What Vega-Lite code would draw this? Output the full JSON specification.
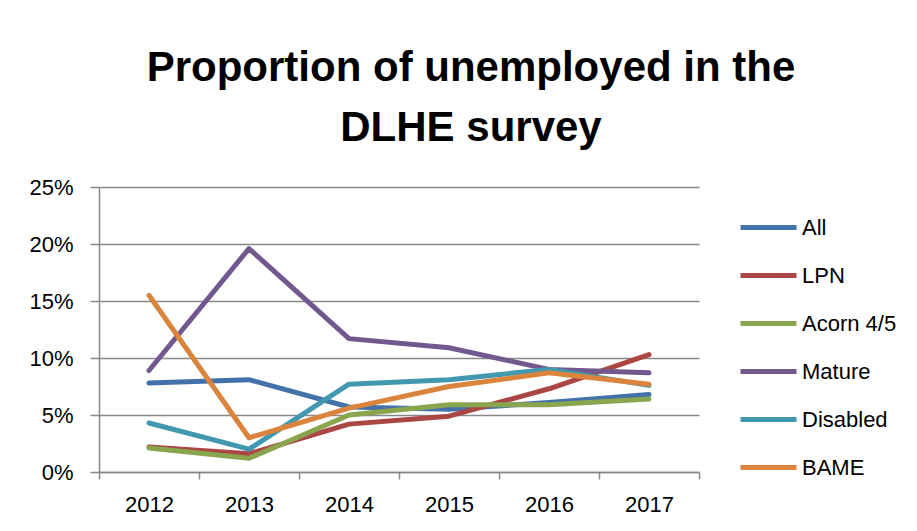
{
  "$schema": "https://vega.github.io/schema/vega-lite/v6.json",
  "autosize": "none",
  "width": 600,
  "height": 285,
  "padding": {"left": 99, "top": 187, "right": 218, "bottom": 59},
  "background": "white",
  "title": {
    "text": ["Proportion of unemployed in the", "DLHE survey"],
    "anchor": "middle",
    "font": "Liberation Sans",
    "fontSize": 42,
    "fontWeight": "bold",
    "color": "#000000",
    "lineHeight": 60,
    "dx": 72,
    "offset": 26
  },
  "data": {
    "values": [
      {"year": "2012", "group": "All", "value": 0.078},
      {"year": "2013", "group": "All", "value": 0.081},
      {"year": "2014", "group": "All", "value": 0.057},
      {"year": "2015", "group": "All", "value": 0.055},
      {"year": "2016", "group": "All", "value": 0.061},
      {"year": "2017", "group": "All", "value": 0.068},
      {"year": "2012", "group": "LPN", "value": 0.022},
      {"year": "2013", "group": "LPN", "value": 0.016},
      {"year": "2014", "group": "LPN", "value": 0.042},
      {"year": "2015", "group": "LPN", "value": 0.049},
      {"year": "2016", "group": "LPN", "value": 0.073},
      {"year": "2017", "group": "LPN", "value": 0.103},
      {"year": "2012", "group": "Acorn 4/5", "value": 0.021},
      {"year": "2013", "group": "Acorn 4/5", "value": 0.012},
      {"year": "2014", "group": "Acorn 4/5", "value": 0.050},
      {"year": "2015", "group": "Acorn 4/5", "value": 0.059},
      {"year": "2016", "group": "Acorn 4/5", "value": 0.059},
      {"year": "2017", "group": "Acorn 4/5", "value": 0.064},
      {"year": "2012", "group": "Mature", "value": 0.089},
      {"year": "2013", "group": "Mature", "value": 0.196},
      {"year": "2014", "group": "Mature", "value": 0.117},
      {"year": "2015", "group": "Mature", "value": 0.109},
      {"year": "2016", "group": "Mature", "value": 0.090},
      {"year": "2017", "group": "Mature", "value": 0.087},
      {"year": "2012", "group": "Disabled", "value": 0.043},
      {"year": "2013", "group": "Disabled", "value": 0.020},
      {"year": "2014", "group": "Disabled", "value": 0.077},
      {"year": "2015", "group": "Disabled", "value": 0.081},
      {"year": "2016", "group": "Disabled", "value": 0.090},
      {"year": "2017", "group": "Disabled", "value": 0.076},
      {"year": "2012", "group": "BAME", "value": 0.155},
      {"year": "2013", "group": "BAME", "value": 0.030},
      {"year": "2014", "group": "BAME", "value": 0.056},
      {"year": "2015", "group": "BAME", "value": 0.075},
      {"year": "2016", "group": "BAME", "value": 0.087},
      {"year": "2017", "group": "BAME", "value": 0.077}
    ]
  },
  "mark": {"type": "line", "strokeWidth": 5, "strokeCap": "round", "strokeJoin": "round"},
  "encoding": {
    "x": {
      "field": "year",
      "type": "ordinal",
      "bandPosition": 0.5,
      "scale": {"type": "band", "paddingInner": 0, "paddingOuter": 0},
      "axis": {
        "title": null,
        "labelAngle": 0,
        "tickBand": "extent",
        "grid": false,
        "domainColor": "#888888",
        "domainWidth": 1.5,
        "tickColor": "#888888",
        "tickWidth": 1.5,
        "tickSize": 7,
        "labelFont": "Liberation Sans",
        "labelFontSize": 22,
        "labelColor": "#000000",
        "labelPadding": 15
      }
    },
    "y": {
      "field": "value",
      "type": "quantitative",
      "scale": {"domain": [0, 0.25], "nice": false},
      "axis": {
        "title": null,
        "values": [0, 0.05, 0.1, 0.15, 0.2, 0.25],
        "format": ".0%",
        "grid": true,
        "gridColor": "#888888",
        "gridWidth": 1.5,
        "domainColor": "#888888",
        "domainWidth": 1.5,
        "tickColor": "#888888",
        "tickWidth": 1.5,
        "tickSize": 9,
        "labelFont": "Liberation Sans",
        "labelFontSize": 22,
        "labelColor": "#000000",
        "labelPadding": 17
      }
    },
    "color": {
      "field": "group",
      "type": "nominal",
      "scale": {
        "domain": ["All", "LPN", "Acorn 4/5", "Mature", "Disabled", "BAME"],
        "range": ["#4372AA", "#AA4643", "#89A54E", "#71588F", "#4198AF", "#DB843D"]
      },
      "legend": {
        "title": null,
        "orient": "none",
        "legendX": 657,
        "legendY": 28,
        "padding": 0,
        "symbolType": "M-2.8,0L2.8,0",
        "symbolSize": 400,
        "symbolStrokeWidth": 5,
        "labelOffset": 21,
        "labelFont": "Liberation Sans",
        "labelFontSize": 22,
        "labelColor": "#000000",
        "rowPadding": 24,
        "labelLimit": 300
      }
    },
    "order": {"field": "group"}
  },
  "config": {
    "view": {"stroke": null}
  }
}
